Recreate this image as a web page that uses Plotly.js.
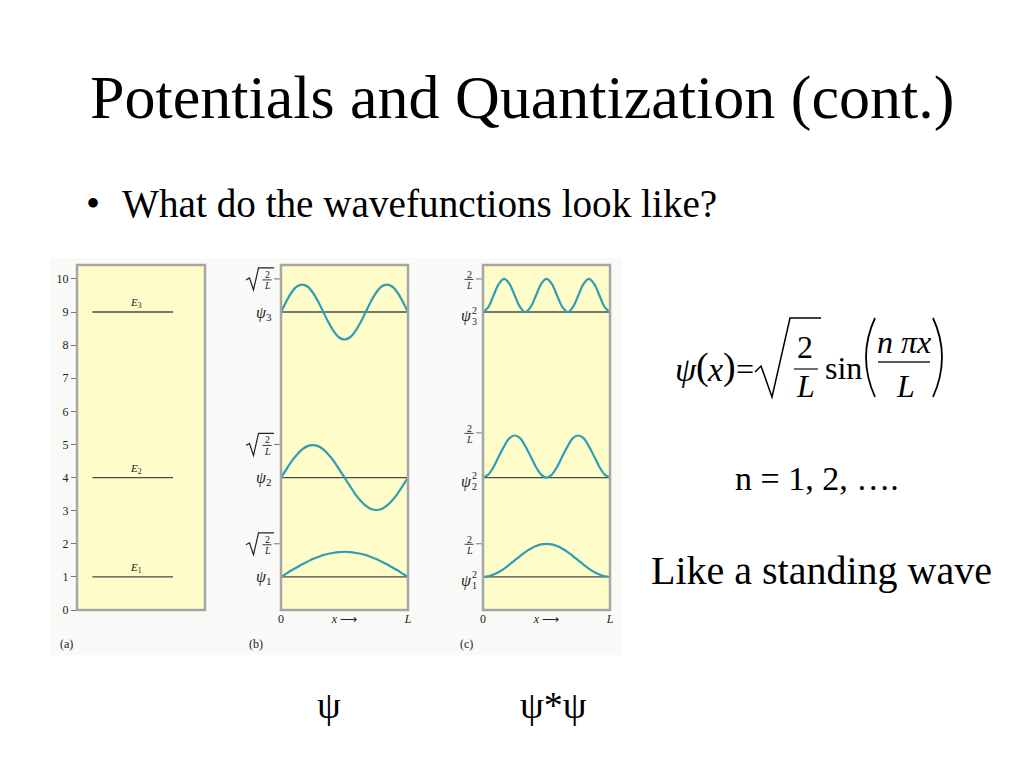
<!DOCTYPE html>
<html><head><meta charset="utf-8">
<script src="https://cdn.plot.ly/plotly-3.0.1.min.js"></script>
<style>html,body{margin:0;padding:0;background:#fff}#chart{width:1024px;height:768px}</style>
</head><body><div id="chart"></div>
<script>
// ---------- data ----------
const energyTicks = [0,1,2,3,4,5,6,7,8,9,10];
const energyLevels = [1, 4, 9];
const energyNames = ['<i>E</i><sub>1</sub>', '<i>E</i><sub>2</sub>', '<i>E</i><sub>3</sub>'];
const xFrac = [0,0.042,0.083,0.125,0.167,0.208,0.25,0.292,0.333,0.375,0.417,0.458,0.5,
               0.542,0.583,0.625,0.667,0.708,0.75,0.792,0.833,0.875,0.917,0.958,1];
const psi1 = [1.00,1.10,1.20,1.29,1.38,1.46,1.54,1.60,1.66,1.70,1.73,1.75,1.76,
              1.75,1.73,1.70,1.66,1.60,1.54,1.46,1.38,1.29,1.20,1.10,1.00];
const psi2 = [4.00,4.25,4.49,4.69,4.85,4.95,4.98,4.95,4.85,4.69,4.49,4.25,4.00,
              3.75,3.51,3.31,3.15,3.05,3.02,3.05,3.15,3.31,3.51,3.75,4.00];
const psi3 = [9.00,9.32,9.59,9.77,9.83,9.77,9.59,9.32,9.00,8.68,8.41,8.23,8.17,
              8.23,8.41,8.68,9.00,9.32,9.59,9.77,9.83,9.77,9.59,9.32,9.00];
const prob1 = [1.00,1.02,1.07,1.15,1.25,1.37,1.50,1.63,1.75,1.85,1.93,1.98,2.00,
               1.98,1.93,1.85,1.75,1.63,1.50,1.37,1.25,1.15,1.07,1.02,1.00];
const prob2 = [4.00,4.09,4.32,4.64,4.95,5.19,5.27,5.19,4.95,4.64,4.32,4.09,4.00,
               4.09,4.32,4.64,4.95,5.19,5.27,5.19,4.95,4.64,4.32,4.09,4.00];
const prob3 = [9.00,9.15,9.50,9.85,10.00,9.85,9.50,9.15,9.00,9.15,9.50,9.85,10.00,
               9.85,9.50,9.15,9.00,9.15,9.50,9.85,10.00,9.85,9.50,9.15,9.00];
const psiPeakTicks = [2, 5, 10];
const probPeakTicks = [2, 5.35, 10];
const xTickVals = [0, 0.5, 1];
const xTickText = ['0', '<i>x</i> ⟶', '<i>L</i>'];
const panelNames = ['(a)', '(b)', '(c)'];

// ---------- geometry helpers ----------
const W = 1024, H = 768;
const px = x => x / W;
const py = y => 1 - y / H;
const panelTop = 265, panelBottom = 610, yMax = 10.42;
const unit = (panelBottom - panelTop) / yMax;
const yPix = v => panelBottom - v * unit;
const SERIF = 'Liberation Serif, Times New Roman, serif';
const TEAL = '#2f9db3';
const BASE = '#4a4a4a';
const YELLOW = '#fefdca';

const traces = [];
energyLevels.forEach(l => traces.push({x:[0.12,0.75], y:[l,l], xaxis:'x', yaxis:'y', mode:'lines',
  line:{color:BASE, width:1.3}, hoverinfo:'skip'}));
['2','3'].forEach(k => energyLevels.forEach(l => traces.push({x:[0,1], y:[l,l], xaxis:'x'+k, yaxis:'y'+k,
  mode:'lines', line:{color:BASE, width:1.3}, hoverinfo:'skip'})));
[psi1, psi2, psi3].forEach(s => traces.push({x:xFrac, y:s, xaxis:'x2', yaxis:'y2', mode:'lines',
  line:{color:TEAL, width:2.2, shape:'spline'}, hoverinfo:'skip'}));
[prob1, prob2, prob3].forEach(s => traces.push({x:xFrac, y:s, xaxis:'x3', yaxis:'y3', mode:'lines',
  line:{color:TEAL, width:2.2, shape:'spline'}, hoverinfo:'skip'}));

const yDom = [py(panelBottom), py(panelTop)];
const baseY = {range:[0,yMax], domain:yDom, showgrid:false, zeroline:false, showline:false, fixedrange:true};
const baseX = {range:[0,1], showgrid:false, zeroline:false, showline:false, fixedrange:true};
const tf = {family:SERIF, size:12, color:'#222'};

const layout = {
  width:W, height:H, margin:{l:0,r:0,t:0,b:0}, showlegend:false,
  paper_bgcolor:'#ffffff', plot_bgcolor:YELLOW,
  xaxis: Object.assign({}, baseX, {domain:[px(77),px(205)], anchor:'y', visible:false}),
  yaxis: Object.assign({}, baseY, {anchor:'x', tickvals:energyTicks, ticks:'outside', ticklen:5, tickcolor:'#777',
          tickfont:tf}),
  xaxis2: Object.assign({}, baseX, {domain:[px(281),px(408)], anchor:'y2', tickvals:xTickVals, ticktext:xTickText,
          ticks:'', tickfont:tf}),
  yaxis2: Object.assign({}, baseY, {anchor:'x2', visible:false}),
  xaxis3: Object.assign({}, baseX, {domain:[px(483),px(610)], anchor:'y3', tickvals:xTickVals, ticktext:xTickText,
          ticks:'', tickfont:tf}),
  yaxis3: Object.assign({}, baseY, {anchor:'x3', visible:false}),
  shapes:[], annotations:[]
};

const S = layout.shapes, A = layout.annotations;
S.push({type:'rect', xref:'paper', yref:'paper', x0:px(50), x1:px(622), y0:py(655), y1:py(258),
  fillcolor:'#f9f9f7', line:{width:0}, layer:'below'});
['','2','3'].forEach(k => S.push({type:'rect', xref:'x'+k+' domain', yref:'y'+k+' domain', x0:0, x1:1, y0:0, y1:1,
  fillcolor:YELLOW, line:{width:0}, layer:'below'}));
['','2','3'].forEach(k => S.push({type:'rect', xref:'x'+k+' domain', yref:'y'+k+' domain', x0:0, x1:1, y0:0, y1:1,
  line:{color:'#a6a6a6', width:2.5}, layer:'above'}));
// tick marks at the amplitude levels of panels b and c
psiPeakTicks.forEach(v => S.push({type:'line', xref:'x2 domain', yref:'y2', x0:-0.055, x1:-0.01, y0:v, y1:v,
  line:{color:'#777', width:1}}));
probPeakTicks.forEach(v => S.push({type:'line', xref:'x3 domain', yref:'y3', x0:-0.055, x1:-0.01, y0:v, y1:v,
  line:{color:'#777', width:1}}));

function ann(text, x, y, size, opts) {
  A.push(Object.assign({text:text, x:px(x), y:py(y), xref:'paper', yref:'paper', showarrow:false,
    xanchor:'center', yanchor:'middle', font:{family:SERIF, size:size, color:'#000'}}, opts||{}));
}
function seg(x0,y0,x1,y1,w){ S.push({type:'line', xref:'paper', yref:'paper', x0:px(x0), y0:py(y0), x1:px(x1), y1:py(y1),
  line:{color:'#222', width:w||1}}); }
function path(pts, w, color){
  const d = pts.map((p,i)=>(i?'L':'M')+px(p[0]).toFixed(5)+','+py(p[1]).toFixed(5)).join(' ');
  S.push({type:'path', xref:'paper', yref:'paper', path:d, line:{color:color||'#222', width:w||1.2}});
}

ann('Potentials and Quantization (cont.)', 522, 97, 62);
ann('•', 93, 203, 40);
ann('What do the wavefunctions look like?', 120, 203, 39.2, {xanchor:'left'});

energyLevels.forEach((l,i) => A.push({text:energyNames[i], xref:'x', yref:'y', x:0.46, y:l, yshift:9,
  showarrow:false, font:{family:SERIF, size:11, color:'#222'}}));

psiPeakTicks.forEach(v => {
  const yc = yPix(v);
  path([[246,yc+1],[249.5,yc-1],[253.5,yc+11],[258.5,yc-11],[274,yc-11]], 1.2);
  ann('2', 267, yc-4.5, 10, {font:{family:SERIF, size:10, color:'#222'}});
  seg(262.5, yc+1, 271.5, yc+1, 0.9);
  ann('<i>L</i>', 267, yc+7, 10, {font:{family:SERIF, size:10, color:'#222'}});
});
energyLevels.forEach((l,i) => ann('<i>ψ</i><sub>'+(i+1)+'</sub>', 274, yPix(l)+1, 16,
  {xanchor:'right', font:{family:SERIF, size:16, color:'#222'}}));

probPeakTicks.forEach(v => {
  const yc = yPix(v);
  ann('2', 469, yc-4.5, 10, {font:{family:SERIF, size:10, color:'#222'}});
  seg(464.5, yc+0.5, 473.5, yc+0.5, 0.9);
  ann('<i>L</i>', 469, yc+6.5, 10, {font:{family:SERIF, size:10, color:'#222'}});
});
energyLevels.forEach((l,i) => {
  const yc = yPix(l);
  ann('<i>ψ</i>', 474, yc+4, 16, {xanchor:'right', font:{family:SERIF, size:16, color:'#222'}});
  ann('2', 474.5, yc-2, 10, {font:{family:SERIF, size:10, color:'#222'}});
  ann(String(i+1), 474.5, yc+9, 10, {font:{family:SERIF, size:10, color:'#222'}});
});

[66, 256, 466].forEach((x,i) => ann(panelNames[i], x, 644, 12, {font:{family:SERIF, size:12, color:'#222'}}));

// formula
ann('<i>ψ</i>', 686, 369, 34);
ann('(', 702, 367, 38);
ann('<i>x</i>', 715, 369, 34);
ann(')', 729, 367, 38);
ann('=', 745, 369, 32);
path([[755,372],[761,366],[772,397],[790,318],[821,318]], 1.5, '#000');
ann('2', 805, 347, 32);
seg(794, 369, 818, 369, 1.3);
ann('<i>L</i>', 805, 386, 32);
ann('sin', 843, 368, 32);
S.push({type:'path', xref:'paper', yref:'paper', line:{color:'#000', width:1.8},
  path:'M'+px(875)+','+py(318)+' Q'+px(857)+','+py(357)+' '+px(875)+','+py(397)});
S.push({type:'path', xref:'paper', yref:'paper', line:{color:'#000', width:1.8},
  path:'M'+px(933)+','+py(318)+' Q'+px(951)+','+py(357)+' '+px(933)+','+py(397)});
ann('<i>n</i> <i>πx</i>', 904, 342, 32);
seg(878, 362, 930, 362, 1.3);
ann('<i>L</i>', 905, 386, 32);

ann('n = 1, 2, ….', 817, 478, 34);
ann('Like a standing wave', 821, 570, 40);
ann('ψ', 329, 705, 38);
ann('ψ*ψ', 553, 705, 38);

Plotly.newPlot('chart', traces, layout, {staticPlot:true, displayModeBar:false});
</script>
</body></html>
